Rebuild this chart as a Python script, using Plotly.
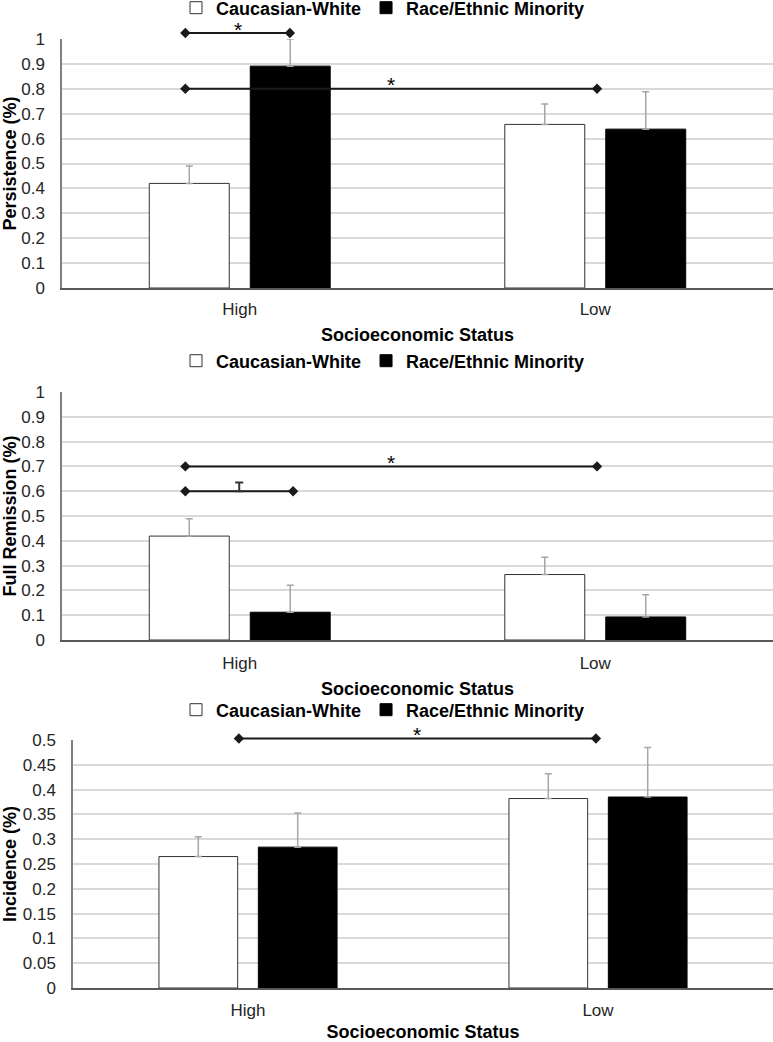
import plotly.graph_objects as go

# ---------------- data ----------------
categories = ["High", "Low"]
groups = ["Caucasian-White", "Race/Ethnic Minority"]

persist_white = [0.42, 0.657]
persist_white_err = [0.07, 0.082]
persist_minority = [0.891, 0.638]
persist_minority_err = [0.109, 0.15]

remit_white = [0.419, 0.264]
remit_white_err = [0.07, 0.07]
remit_minority = [0.112, 0.093]
remit_minority_err = [0.109, 0.089]

incid_white = [0.265, 0.382]
incid_white_err = [0.04, 0.05]
incid_minority = [0.284, 0.385]
incid_minority_err = [0.069, 0.1]

# significance brackets: (x start, x end, y level, label)
persist_sig = [(-0.153, 0.141, 1.024, "*"), (-0.153, 1.005, 0.8, "*")]
remit_sig = [(-0.153, 0.15, 0.6, "T"), (-0.153, 1.005, 0.7, "*")]
incid_sig = [(-0.026, 0.994, 0.503, "*")]

y_titles = ["Persistence (%)", "Full Remission (%)", "Incidence (%)"]
x_title = "Socioeconomic Status"

# ---------------- styling ----------------
FONT = "Liberation Sans, Arial, sans-serif"
W, H = 773, 1042
GRID = "#d9d9d9"
AXIS = "#7f7f7f"
ERR = "#a6a6a6"
EXT = 22  # extra pixels above each panel for significance brackets

panels = [
    dict(white=persist_white, we=persist_white_err, minority=persist_minority,
         me=persist_minority_err, sig=persist_sig, rng=[0, 1], dtick=0.1,
         left=62, top=39, bottom=288, legend_y=8, xtl=5, xstand=10),
    dict(white=remit_white, we=remit_white_err, minority=remit_minority,
         me=remit_minority_err, sig=remit_sig, rng=[0, 1], dtick=0.1,
         left=62, top=392, bottom=640, legend_y=361, xtl=7, xstand=10),
    dict(white=incid_white, we=incid_white_err, minority=incid_minority,
         me=incid_minority_err, sig=incid_sig, rng=[0, 0.5], dtick=0.05,
         left=73, top=740, bottom=988, legend_y=710, xtl=6, xstand=13),
]

fig = go.Figure()
xpos = list(range(len(categories)))
annotations = []
layout_extra = {}
npan = len(panels)

for i, p in enumerate(panels):
    n = "" if i == 0 else str(i + 1)
    xa, ya = "x" + n, "y" + n
    so = str(i + 1 + npan)
    sxa, sya = "x" + so, "y" + so
    leg = "legend" + n
    fig.add_trace(go.Bar(
        x=xpos, y=p["white"], name=groups[0], xaxis=xa, yaxis=ya, legend=leg,
        marker=dict(color="white", line=dict(color="#333333", width=1)),
        error_y=dict(type="data", array=p["we"], arrayminus=[0] * 2, symmetric=False,
                     color=ERR, thickness=1.5, width=3.5),
    ))
    fig.add_trace(go.Bar(
        x=xpos, y=p["minority"], name=groups[1], xaxis=xa, yaxis=ya, legend=leg,
        marker=dict(color="black", line=dict(color="black", width=1)),
        error_y=dict(type="data", array=p["me"], arrayminus=[0] * 2, symmetric=False,
                     color=ERR, thickness=1.5, width=3.5),
    ))
    for (x0, x1, yl, lab) in p["sig"]:
        fig.add_trace(go.Scatter(
            x=[x0, x1], y=[yl, yl], mode="lines+markers", xaxis=sxa, yaxis=sya,
            line=dict(color="#1a1a1a", width=2),
            marker=dict(symbol="diamond", size=8, color="#1a1a1a"),
            showlegend=False, hoverinfo="skip",
        ))
        if lab == "T":
            # trend marker drawn as a small capped tick
            fig.add_trace(go.Scatter(
                x=[(x0 + x1) / 2], y=[yl], mode="markers", xaxis=sxa, yaxis=sya,
                marker=dict(size=0.1, color="rgba(0,0,0,0)"),
                error_y=dict(type="data", array=[0.035], arrayminus=[0], symmetric=False,
                             color="#333333", thickness=2, width=4),
                showlegend=False, hoverinfo="skip",
            ))
        else:
            annotations.append(dict(
                x=(x0 + x1) / 2, y=yl, xref=sxa, yref=sya, text=lab, showarrow=False,
                yanchor="middle", yshift=4, font=dict(family=FONT, size=21, color="black"),
            ))

    ytop = 1 - p["top"] / H
    ybot = 1 - p["bottom"] / H
    ytop_ext = 1 - (p["top"] - EXT) / H
    rtop_ext = p["rng"][1] + (p["rng"][1] - p["rng"][0]) * EXT / (p["bottom"] - p["top"])
    xdom = [p["left"] / W, 1]

    layout_extra["xaxis" + n] = dict(
        domain=xdom, range=[-0.5, 1.5], tickvals=xpos, ticktext=categories,
        showgrid=False, zeroline=False, showline=True, linecolor="#595959", linewidth=1.5,
        ticks="outside", ticklen=p["xtl"], tickcolor="rgba(0,0,0,0)",
        tickfont=dict(family=FONT, size=17, color="#262626"),
        title=dict(text="<b>" + x_title + "</b>", standoff=p["xstand"],
                   font=dict(family=FONT, size=18, color="black")),
        anchor=ya, fixedrange=True,
    )
    layout_extra["yaxis" + n] = dict(
        domain=[ybot, ytop], range=p["rng"], dtick=p["dtick"],
        showgrid=True, gridcolor=GRID, gridwidth=1.5, zeroline=False,
        showline=True, linecolor=AXIS, linewidth=1.5,
        ticks="outside", ticklen=12, tickcolor="rgba(0,0,0,0)",
        tickfont=dict(family=FONT, size=17, color="#262626"),
        title=dict(text="<b>" + y_titles[i] + "</b>", standoff=2,
                   font=dict(family=FONT, size=18, color="black")),
        anchor=xa, fixedrange=True,
    )
    # invisible companion axes (same scale) for the significance brackets
    layout_extra["xaxis" + so] = dict(
        domain=xdom, range=[-0.5, 1.5], visible=False, anchor=sya, fixedrange=True,
    )
    layout_extra["yaxis" + so] = dict(
        domain=[ybot, ytop_ext], range=[p["rng"][0], rtop_ext], visible=False,
        anchor=sxa, fixedrange=True,
    )
    layout_extra[leg] = dict(
        orientation="h", x=383 / W, xanchor="center", y=1 - p["legend_y"] / H,
        yanchor="middle", bgcolor="rgba(0,0,0,0)", itemwidth=30,
        font=dict(family=FONT, size=18, color="black", weight="bold"),
        tracegroupgap=0,
    )

fig.update_layout(
    width=W, height=H, margin=dict(l=0, r=0, t=0, b=0, autoexpand=False),
    paper_bgcolor="white", plot_bgcolor="rgba(0,0,0,0)",
    barmode="group", bargap=0.432, bargroupgap=0.208,
    annotations=annotations, showlegend=True,
    font=dict(family=FONT),
    **layout_extra,
)

fig.write_html("out.html", config={"displayModeBar": False},
               post_script="document.body.style.margin='0';")
